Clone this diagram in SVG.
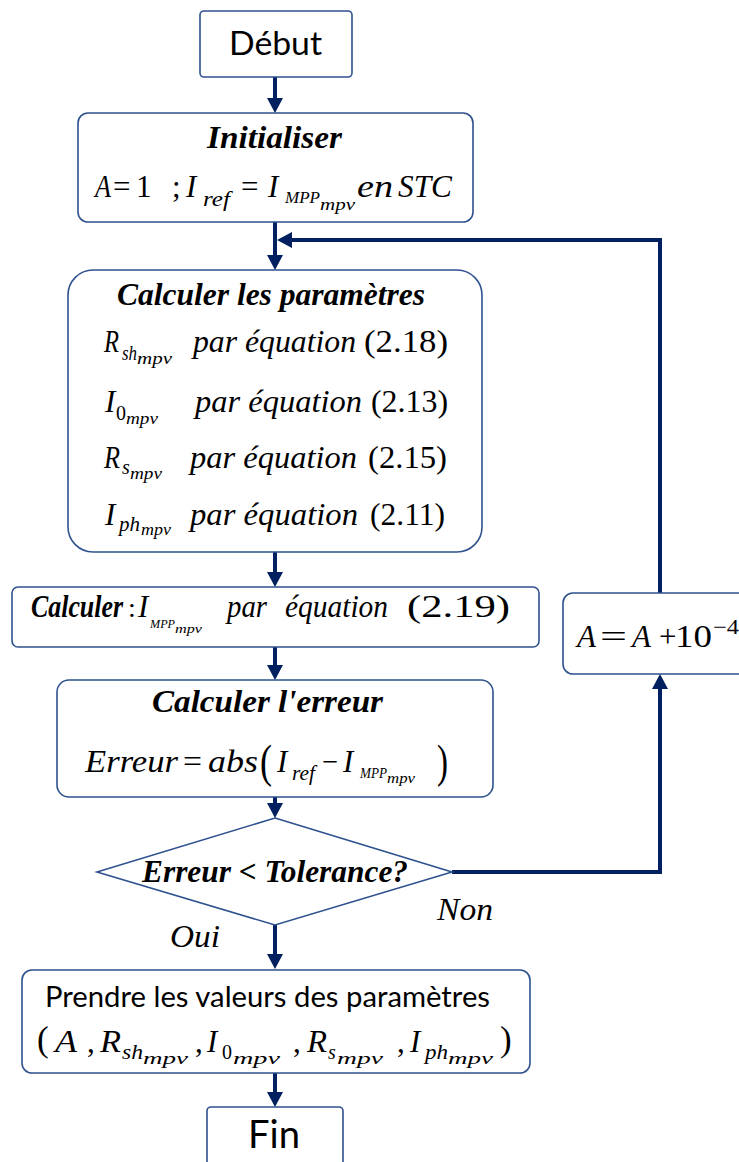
<svg xmlns="http://www.w3.org/2000/svg" width="739" height="1162" viewBox="0 0 739 1162">
<style>
.box{fill:#ffffff;stroke:#2F528F;stroke-width:1.6}
.conn{stroke:#002060;stroke-width:4;fill:none}
.m{font-family:"Liberation Serif","Times New Roman",serif;font-style:italic;font-size:31px;fill:#000}
.u{font-style:normal}
.b{font-weight:bold}
.sans{font-family:Lato,"Open Sans",sans-serif;font-style:normal;fill:#000}
</style>
<defs>
<marker id="ah" markerUnits="userSpaceOnUse" markerWidth="16" markerHeight="16" refX="7" refY="8" orient="auto">
<path d="M0,0 L15,8 L0,16 Z" fill="#002060"/>
</marker>
</defs>

<g id="connectors">
<path class="conn" d="M275,77 V105" marker-end="url(#ah)"/>
<path class="conn" d="M275,222 V262" marker-end="url(#ah)"/>
<path class="conn" d="M660,593 V240 H285" marker-end="url(#ah)"/>
<path class="conn" d="M275,552 V579" marker-end="url(#ah)"/>
<path class="conn" d="M275,647 V672" marker-end="url(#ah)"/>
<path class="conn" d="M275,797 V810" marker-end="url(#ah)"/>
<path class="conn" d="M275,925 V961" marker-end="url(#ah)"/>
<path class="conn" d="M275,1073 V1099" marker-end="url(#ah)"/>
<path class="conn" d="M452,872 H660 V682" marker-end="url(#ah)"/>
</g>

<g id="debut">
<rect class="box" x="200" y="11" width="152" height="66" rx="4"/>
<text class="sans" x="229" y="55" font-size="33" textLength="93" lengthAdjust="spacingAndGlyphs">Début</text>
</g>

<g id="initialiser">
<rect class="box" x="78" y="113" width="395" height="109" rx="10"/>
<text class="m b" x="207" y="148" font-size="30" textLength="135" lengthAdjust="spacingAndGlyphs">Initialiser</text>
<text class="m" y="197"><tspan x="95" textLength="16" lengthAdjust="spacingAndGlyphs">A</tspan><tspan class="u" x="113">=</tspan><tspan class="u" x="136">1</tspan><tspan class="u" x="172">;</tspan><tspan x="186">I</tspan><tspan x="203" y="206" font-size="20" textLength="27" lengthAdjust="spacingAndGlyphs">ref</tspan><tspan class="u" x="241" y="197">=</tspan><tspan x="268">I</tspan><tspan x="285" y="203" font-size="16" textLength="35" lengthAdjust="spacingAndGlyphs">MPP</tspan><tspan x="320" y="210" font-size="16" textLength="35" lengthAdjust="spacingAndGlyphs">mpv</tspan><tspan x="357" y="197" textLength="36" lengthAdjust="spacingAndGlyphs">en</tspan><tspan x="398" textLength="54" lengthAdjust="spacingAndGlyphs">STC</tspan></text>
</g>

<g id="calculer-parametres">
<rect class="box" x="68" y="270" width="414" height="282" rx="25"/>
<text class="m b" x="117" y="305" font-size="28" textLength="308" lengthAdjust="spacingAndGlyphs">Calculer les paramètres</text>
<text class="m" y="352" font-size="32"><tspan x="104" textLength="15" lengthAdjust="spacingAndGlyphs">R</tspan><tspan x="122" y="360" font-size="20" textLength="15" lengthAdjust="spacingAndGlyphs">sh</tspan><tspan x="137" y="364" font-size="17" textLength="35" lengthAdjust="spacingAndGlyphs">mpv</tspan><tspan x="193" y="352" textLength="163" lengthAdjust="spacingAndGlyphs">par équation</tspan><tspan class="u" x="364" textLength="84" lengthAdjust="spacingAndGlyphs">(2.18)</tspan></text>
<text class="m" y="412" font-size="32"><tspan x="105">I</tspan><tspan class="u" x="116" y="420" font-size="20">0</tspan><tspan x="126" y="424" font-size="17" textLength="32" lengthAdjust="spacingAndGlyphs">mpv</tspan><tspan x="195" y="412" textLength="167" lengthAdjust="spacingAndGlyphs">par équation</tspan><tspan class="u" x="371" textLength="77" lengthAdjust="spacingAndGlyphs">(2.13)</tspan></text>
<text class="m" y="468" font-size="32"><tspan x="104" textLength="16" lengthAdjust="spacingAndGlyphs">R</tspan><tspan x="122" y="474" font-size="20">s</tspan><tspan x="130" y="479" font-size="17" textLength="32" lengthAdjust="spacingAndGlyphs">mpv</tspan><tspan x="190" y="468" textLength="167" lengthAdjust="spacingAndGlyphs">par équation</tspan><tspan class="u" x="368" textLength="79" lengthAdjust="spacingAndGlyphs">(2.15)</tspan></text>
<text class="m" y="525" font-size="32"><tspan x="105">I</tspan><tspan x="119" y="531" font-size="20" textLength="21" lengthAdjust="spacingAndGlyphs">ph</tspan><tspan x="141" y="535" font-size="17" textLength="30" lengthAdjust="spacingAndGlyphs">mpv</tspan><tspan x="190" y="525" textLength="168" lengthAdjust="spacingAndGlyphs">par équation</tspan><tspan class="u" x="370" textLength="75" lengthAdjust="spacingAndGlyphs">(2.11)</tspan></text>
</g>

<g id="calculer-impp">
<rect class="box" x="12" y="587" width="527" height="60" rx="6"/>
<text class="m" y="617" font-size="30"><tspan class="b" x="31" textLength="92" lengthAdjust="spacingAndGlyphs">Calculer</tspan><tspan class="u" x="128" font-size="28">:</tspan><tspan x="138">I</tspan><tspan x="150" y="628" font-size="13" textLength="25" lengthAdjust="spacingAndGlyphs">MPP</tspan><tspan x="175" y="633" font-size="13" textLength="27" lengthAdjust="spacingAndGlyphs">mpv</tspan><tspan x="227" y="617" textLength="40" lengthAdjust="spacingAndGlyphs">par</tspan><tspan x="285" textLength="103" lengthAdjust="spacingAndGlyphs">équation</tspan><tspan class="u" x="407" textLength="103" lengthAdjust="spacingAndGlyphs">(2.19)</tspan></text>
</g>

<g id="increment-a">
<rect class="box" x="563" y="593" width="200" height="81" rx="10"/>
<text class="m" y="647" font-size="33"><tspan x="577">A</tspan><tspan class="u" x="600" textLength="27" lengthAdjust="spacingAndGlyphs">=</tspan><tspan x="632">A</tspan><tspan class="u" x="659">+</tspan><tspan class="u" x="675" textLength="37" lengthAdjust="spacingAndGlyphs">10</tspan><tspan class="u" x="713" y="634" font-size="21" textLength="26" lengthAdjust="spacingAndGlyphs">−4</tspan></text>
</g>

<g id="calculer-erreur">
<rect class="box" x="57" y="680" width="436" height="117" rx="12"/>
<text class="m b" x="152" y="712" font-size="31" textLength="231" lengthAdjust="spacingAndGlyphs">Calculer l'erreur</text>
<text class="m" y="772" font-size="34"><tspan x="85" textLength="93" lengthAdjust="spacingAndGlyphs">Erreur</tspan><tspan class="u" x="183" textLength="19" lengthAdjust="spacingAndGlyphs">=</tspan><tspan x="208" textLength="50" lengthAdjust="spacingAndGlyphs">abs</tspan><tspan class="u" x="260" y="777" font-size="46" textLength="12" lengthAdjust="spacingAndGlyphs">(</tspan><tspan x="277" y="772">I</tspan><tspan x="292" y="780" font-size="20" textLength="23" lengthAdjust="spacingAndGlyphs">ref</tspan><tspan class="u" x="322" y="772" textLength="16" lengthAdjust="spacingAndGlyphs">−</tspan><tspan x="343">I</tspan><tspan x="360" y="778" font-size="14" textLength="27" lengthAdjust="spacingAndGlyphs">MPP</tspan><tspan x="387" y="783" font-size="14" textLength="28" lengthAdjust="spacingAndGlyphs">mpv</tspan><tspan class="u" x="437" y="777" font-size="46" textLength="11" lengthAdjust="spacingAndGlyphs">)</tspan></text>
</g>

<g id="decision">
<polygon points="275,818 452,872 275,925 97,872" fill="#ffffff" stroke="#2F528F" stroke-width="1.6"/>
<text class="m b" x="142" y="882" font-size="28" textLength="266" lengthAdjust="spacingAndGlyphs">Erreur &lt; Tolerance?</text>
</g>

<g id="label-non">
<text class="m" x="437" y="920" font-size="29" textLength="56" lengthAdjust="spacingAndGlyphs">Non</text>
</g>
<g id="label-oui">
<text class="m" x="170" y="947" font-size="29" textLength="50" lengthAdjust="spacingAndGlyphs">Oui</text>
</g>

<g id="prendre">
<rect class="box" x="22" y="970" width="508" height="103" rx="10"/>
<text class="sans" x="45" y="1007" font-size="29" textLength="445" lengthAdjust="spacingAndGlyphs">Prendre les valeurs des paramètres</text>
<text class="m" y="1052" font-size="31"><tspan class="u" x="37" y="1051" font-size="35">(</tspan><tspan x="55" y="1052" textLength="22" lengthAdjust="spacingAndGlyphs">A</tspan><tspan class="u" x="87">,</tspan><tspan x="100" textLength="21" lengthAdjust="spacingAndGlyphs">R</tspan><tspan x="122" y="1059" font-size="20" textLength="21" lengthAdjust="spacingAndGlyphs">sh</tspan><tspan x="143" y="1064" font-size="17" textLength="45" lengthAdjust="spacingAndGlyphs">mpv</tspan><tspan class="u" x="195" y="1052">,</tspan><tspan x="207">I</tspan><tspan class="u" x="222" y="1059" font-size="20">0</tspan><tspan x="233" y="1064" font-size="17" textLength="47" lengthAdjust="spacingAndGlyphs">mpv</tspan><tspan class="u" x="293" y="1052">,</tspan><tspan x="307" textLength="20" lengthAdjust="spacingAndGlyphs">R</tspan><tspan x="328" y="1059" font-size="20">s</tspan><tspan x="337" y="1064" font-size="17" textLength="46" lengthAdjust="spacingAndGlyphs">mpv</tspan><tspan class="u" x="397" y="1052">,</tspan><tspan x="410">I</tspan><tspan x="425" y="1059" font-size="20" textLength="23" lengthAdjust="spacingAndGlyphs">ph</tspan><tspan x="448" y="1064" font-size="17" textLength="45" lengthAdjust="spacingAndGlyphs">mpv</tspan><tspan class="u" x="500" y="1051" font-size="35">)</tspan></text>
</g>

<g id="fin">
<rect class="box" x="207" y="1107" width="136" height="70" rx="4"/>
<text class="sans" x="248" y="1148" font-size="38" textLength="52" lengthAdjust="spacingAndGlyphs">Fin</text>
</g>
</svg>
